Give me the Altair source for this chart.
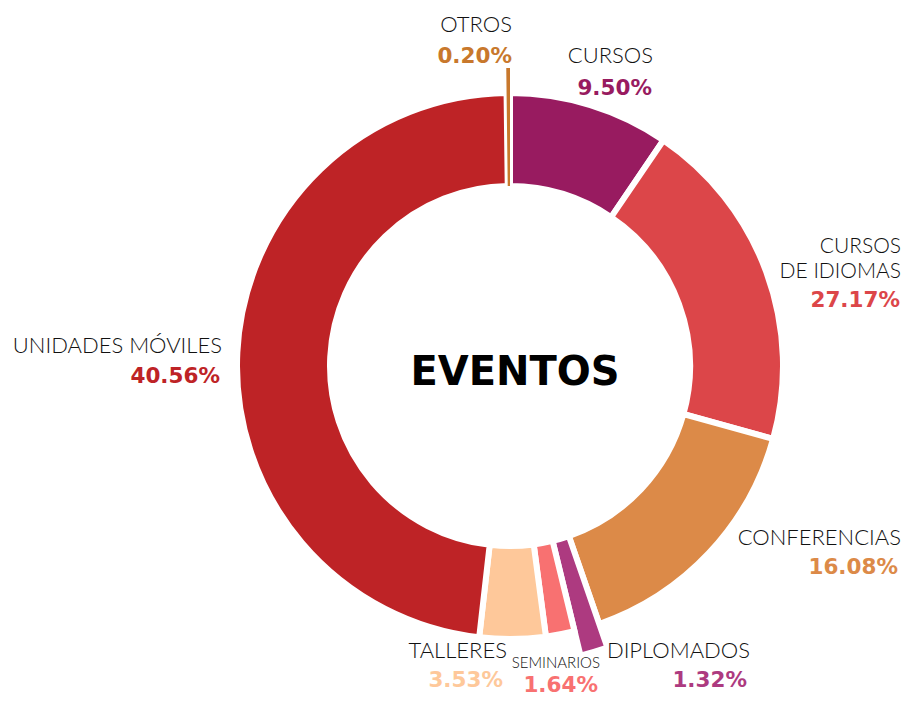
import altair as alt
import pandas as pd

# ---- data ----
categories = ["Cursos", "Cursos de Idiomas", "Conferencias", "Diplomados",
              "Seminarios", "Talleres", "Unidades Móviles", "Otros"]
# angular share of each drawn slice (%), as measured on the ring
slice_share = [9.5, 19.8, 15.4, 1.5, 1.7, 3.9, 48.0, 0.2]
# printed percentage labels
pct_labels = ["9.50%", "27.17%", "16.08%", "1.32%", "1.64%", "3.53%", "40.56%", "0.20%"]
name_lines = ["Cursos", "Cursos\nde Idiomas", "Conferencias", "Diplomados",
              "Seminarios", "Talleres", "Unidades Móviles", "Otros"]
colors = ["#981B60", "#DC4649", "#DC8A48", "#AD3A80",
          "#F87171", "#FEC89A", "#BE2326", "#C8782C"]
popped = ["Diplomados", "Otros"]
title_text = "Eventos"

# ---- label anchors (layout) ----
name_x = [645, 893, 893, 742, 592, 499, 214, 504]
name_y = [55, 245, 537, 650, 660, 650, 345, 24]
name_fs = [22, 21, 22, 22, 15, 22, 22, 22]
pct_x = [644, 892, 890, 739, 590, 495, 212, 504]
pct_y = [87, 299, 566, 679, 684, 679, 375, 55]

df = pd.DataFrame({"cat": categories, "share": slice_share, "idx": list(range(len(categories)))})
lab = pd.DataFrame({"cat": categories, "name": name_lines, "pct": pct_labels,
                    "nx": name_x, "ny": name_y, "fs": name_fs, "px": pct_x, "py": pct_y})

color_scale = alt.Scale(domain=categories, range=colors)
popped_expr = "indexof([" + ",".join(f"'{p}'" for p in popped) + "], datum.cat) >= 0"

arcs = alt.Chart(df).transform_stack(
    stack="share", as_=["s0", "s1"], groupby=[],
    sort=[alt.SortField("idx", order="ascending")], offset="normalize",
).transform_calculate(
    r_out=f"{popped_expr} ? 298 : 273",
    sw="datum.cat == 'Otros' ? 0 : 6",
).mark_arc(x=502, y=358, radius2=180, stroke="white").encode(
    theta=alt.Theta("s0:Q", scale=alt.Scale(domain=[0, 1])),
    theta2="s1:Q",
    radius=alt.Radius("r_out:Q", scale=None),
    color=alt.Color("cat:N", scale=color_scale, legend=None),
    strokeWidth=alt.StrokeWidth("sw:Q", scale=None),
    order=alt.Order("idx:Q"),
)

names = alt.Chart(lab).transform_calculate(
    NAME="upper(datum.name)"
).mark_text(align="right", baseline="alphabetic", font="Lato", fontWeight=300,
            lineBreak="\n", lineHeight=25, color="#111111").encode(
    x=alt.X("nx:Q", scale=None, axis=None),
    y=alt.Y("ny:Q", scale=None, axis=None),
    size=alt.Size("fs:Q", scale=None, legend=None),
    text="NAME:N",
)

pcts = alt.Chart(lab).mark_text(align="right", baseline="alphabetic", font="DejaVu Sans",
                                fontWeight="bold", fontSize=21.5).encode(
    x=alt.X("px:Q", scale=None, axis=None),
    y=alt.Y("py:Q", scale=None, axis=None),
    color=alt.Color("cat:N", scale=color_scale, legend=None),
    text="pct:N",
)

title = alt.Chart(pd.DataFrame({"t": [title_text]})).transform_calculate(
    T="upper(datum.t)"
).mark_text(align="center", baseline="alphabetic", font="DejaVu Sans", fontWeight="bold",
            fontSize=40, color="#000000").encode(
    x=alt.value(507), y=alt.value(377), text="T:N"
)

chart = alt.layer(arcs, names, pcts, title).properties(
    width=894, height=688, padding=0,
    autosize=alt.AutoSizeParams(type="none"),
).configure_view(stroke=None)

chart.save("out.html", embed_options={"renderer": "svg", "actions": False})
